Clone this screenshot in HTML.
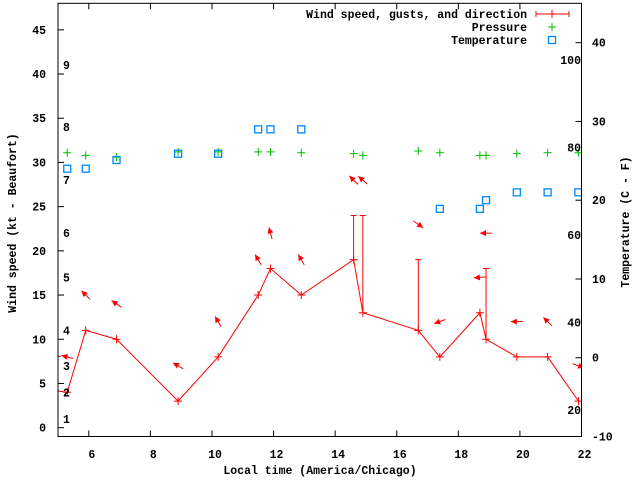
<!DOCTYPE html>
<html><head><meta charset="utf-8"><style>
body{margin:0;background:#fff}
svg{display:block}
text{font-family:"Liberation Mono",monospace;font-size:11.5px;font-weight:bold;fill:#000}
</style></head><body>
<svg id="c" width="640" height="480" xmlns="http://www.w3.org/2000/svg"></svg>
<script>
const times=[4.9,5.3,5.9,6.9,8.9,10.2,11.5,11.9,12.9,14.6,14.9,16.7,17.4,18.7,18.9,19.9,20.9,21.9];
const speeds=[4.2,4,11,10,3,8,15,18,15,19,13,11,8,13,10,8,8,3];
const gusts=[null,null,null,null,null,null,null,null,null,24,24,19,null,null,18,null,null,null];
const arrowDirs=[165,165,135,145,150,120,120,105,120,135,140,-35,200,185,180,180,135,-20];
const pressure=[null,31.1,30.8,30.6,31.2,31.2,31.2,31.2,31.1,31.0,30.8,31.3,31.1,30.8,30.8,31.0,31.1,31.1];
const tempC=[null,24.0,24.0,25.1,25.9,25.9,29.0,29.0,29.0,null,null,null,18.9,18.9,20.0,21.0,21.0,21.0];
const xTicks=[6,8,10,12,14,16,18,20,22];
const yTicks=[0,5,10,15,20,25,30,35,40,45];
const y2Ticks=[-10,0,10,20,30,40];
const beaufortKt=[1,4,7,11,17,22,28,34,41];
const beaufortLabels=["1","2","3","4","5","6","7","8","9"];
const fahrenheit=[20,40,60,80,100];

const L=58,R=581.5,T=3.3,B=436.5;
const X=t=>L+(t-5)/(22-5)*(R-L);
const Y=v=>B-(v+1)/(48+1)*(B-T);
const Y2=c=>B-(c+10)/(45+10)*(B-T);
const svg=document.getElementById('c');
const NS='http://www.w3.org/2000/svg';
function mk(tag,attrs,parent){const e=document.createElementNS(NS,tag);for(const k in attrs)e.setAttribute(k,attrs[k]);(parent||svg).appendChild(e);return e;}

const defs=mk('defs',{});
const cp=mk('clipPath',{id:'clip'},defs);
mk('rect',{x:L,y:T,width:R-L,height:B-T},cp);
const plot=mk('g',{'clip-path':'url(#clip)'});



// frame
const frame=mk('rect',{x:L,y:T,width:R-L,height:B-T,fill:'none',stroke:'#000','stroke-width':1});



xTicks.forEach(t=>{
  const x=X(t);
  mk('line',{x1:x,y1:B,x2:x,y2:B-6,stroke:'#000'});
  mk('line',{x1:x,y1:T,x2:x,y2:T+6,stroke:'#000'});
  const tx=mk('text',{x:x+3,y:458,'text-anchor':'middle'});tx.textContent=t;
  
  
});
yTicks.forEach(v=>{
  const y=Y(v);
  mk('line',{x1:L,y1:y,x2:L+6,y2:y,stroke:'#000'});
  const tx=mk('text',{x:46,y:y+4,'text-anchor':'end'});tx.textContent=v;
  
  
});
y2Ticks.forEach(v=>{
  const y=Y2(v);
  mk('line',{x1:R,y1:y,x2:R-6,y2:y,stroke:'#000'});
  const tx=mk('text',{x:592,y:y+4,'text-anchor':'start'});tx.textContent=v;
  
  
});
beaufortKt.forEach((k,i)=>{
  const tx=mk('text',{x:63,y:Y(k)+4});tx.textContent=beaufortLabels[i];
  
  
});
fahrenheit.forEach(f=>{
  const c=(f-32)*5/9;
  const tx=mk('text',{x:581,y:Y2(c)+4,'text-anchor':'end'});tx.textContent=f;
  
  
});

// wind line
const pts=times.map((t,i)=>X(t)+','+Y(speeds[i])).join(' ');
const wl=mk('polyline',{points:pts,fill:'none',stroke:'#f00','stroke-width':1},plot);


times.forEach((t,i)=>{
  const x=X(t),y=Y(speeds[i]);
  const g=mk('path',{d:`M${x-4},${y}h8M${x},${y-4}v8`,stroke:'#f00'},plot);
  
  
  if(gusts[i]!=null){
    const gy=Y(gusts[i]);
    const e=mk('path',{d:`M${x},${y}V${gy}M${x-3},${gy}h6`,stroke:'#f00'},plot);
    
    
  }
  const top=Math.max(speeds[i],gusts[i]||0)+4;
  const cy=Y(top),a=arrowDirs[i]*Math.PI/180,len=12;
  const dx=Math.cos(a)*len/2,dy=-Math.sin(a)*len/2;
  const hx=x+dx,hy=cy+dy,tx0=x-dx,ty0=cy-dy;
  const ux=Math.cos(a),uy=-Math.sin(a);
  const p1x=hx-ux*6+uy*3,p1y=hy-uy*6-ux*3,p2x=hx-ux*6-uy*3,p2y=hy-uy*6+ux*3;
  const ar=mk('g',{},plot);
  
  
  mk('line',{x1:tx0,y1:ty0,x2:hx,y2:hy,stroke:'#f00'},ar);
  mk('polygon',{points:`${hx},${hy} ${p1x},${p1y} ${p2x},${p2y}`,fill:'#f00'},ar);
});
times.forEach((t,i)=>{
  if(pressure[i]==null)return;
  const x=X(t),y=Y(pressure[i]);
  const p=mk('path',{d:`M${x-4},${y}h8M${x},${y-4}v8`,stroke:'#0b0'},plot);
  
  
});
times.forEach((t,i)=>{
  if(tempC[i]==null)return;
  const x=X(t),y=Y2(tempC[i]);
  const r=mk('rect',{x:x-3.5,y:y-3.5,width:7,height:7,fill:'none',stroke:'#08f','stroke-width':1.3},plot);
  
  
});
</script>
<svg style="position:absolute;left:0;top:0" width="640" height="480">
<g>
<text x="527" y="18" text-anchor="end">Wind speed, gusts, and direction</text>
<path d="M536,14h33M536,11v6M569,11v6M552,10v8" stroke="#f00"/>
<text x="527" y="31" text-anchor="end">Pressure</text>
<path d="M548,27h8M552,23v8" stroke="#0b0"/>
<text x="527" y="44" text-anchor="end">Temperature</text>
<rect x="548.5" y="36.5" width="7" height="7" fill="none" stroke="#08f" stroke-width="1.3"/>
</g>
<text x="320" y="474" text-anchor="middle">Local time (America/Chicago)</text>
<text transform="translate(16,223) rotate(-90)" text-anchor="middle">Wind speed (kt - Beaufort)</text>
<text transform="translate(629,222) rotate(-90)" text-anchor="middle">Temperature (C - F)</text>
</svg>
</body></html>
